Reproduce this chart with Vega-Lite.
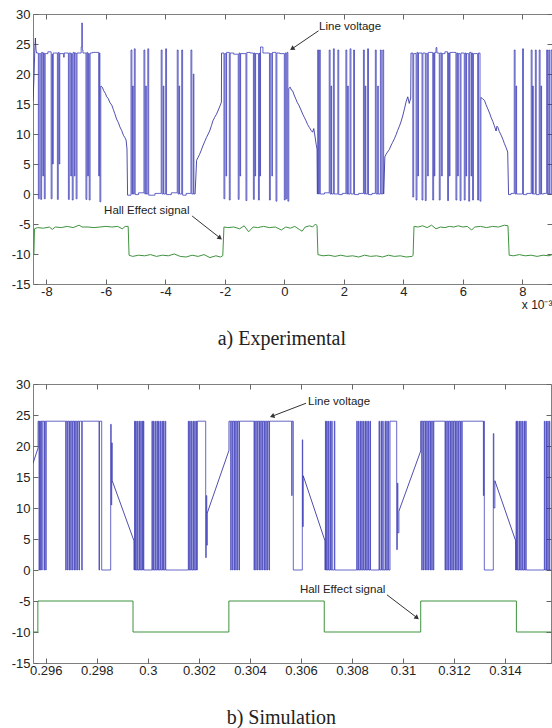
{
"$schema":"https://vega.github.io/schema/vega-lite/v6.json",
"background":"white",
"padding":{"left":10,"top":7,"right":0,"bottom":0},
"spacing":27,
"config":{
 "view":{"stroke":"#808080","strokeWidth":1},
 "axis":{"domain":false,"grid":false,"labelFont":"Liberation Sans","labelFontSize":13,"labelColor":"#222","tickColor":"#666","tickSize":-5,"titleFont":"Liberation Sans","titleFontWeight":"normal","titleFontSize":12,"titleColor":"#222"},
 "axisX":{"labelPadding":6},
 "axisY":{"labelPadding":8},
 "title":{"font":"Liberation Serif","fontSize":20,"fontWeight":"normal","color":"#222"}
},
"datasets":{
"expHall":[{"t":-8.45,"v":-10.0},{"t":-8.42,"v":-10.1},{"t":-8.40,"v":-5.8},{"t":-8.3,"v":-5.6},{"t":-8.1,"v":-5.7},{"t":-7.9,"v":-5.5},{"t":-7.8,"v":-5.9},{"t":-7.7,"v":-5.5},{"t":-7.5,"v":-5.6},{"t":-7.3,"v":-5.4},{"t":-7.1,"v":-5.6},{"t":-6.9,"v":-5.2},{"t":-6.8,"v":-5.5},{"t":-6.6,"v":-5.5},{"t":-6.4,"v":-5.6},{"t":-6.2,"v":-5.5},{"t":-6.0,"v":-5.4},{"t":-5.8,"v":-5.5},{"t":-5.6,"v":-5.4},{"t":-5.45,"v":-5.8},{"t":-5.35,"v":-5.4},{"t":-5.25,"v":-5.4},{"t":-5.22,"v":-10.2},{"t":-5.1,"v":-10.4},{"t":-4.9,"v":-10.2},{"t":-4.7,"v":-10.3},{"t":-4.5,"v":-10.1},{"t":-4.3,"v":-10.4},{"t":-4.1,"v":-10.2},{"t":-3.9,"v":-10.3},{"t":-3.7,"v":-10.0},{"t":-3.5,"v":-10.4},{"t":-3.3,"v":-10.5},{"t":-3.1,"v":-10.2},{"t":-2.9,"v":-10.4},{"t":-2.7,"v":-10.1},{"t":-2.5,"v":-10.6},{"t":-2.3,"v":-10.3},{"t":-2.15,"v":-10.5},{"t":-2.07,"v":-10.3},{"t":-2.03,"v":-5.5},{"t":-1.9,"v":-5.6},{"t":-1.7,"v":-5.5},{"t":-1.5,"v":-5.8},{"t":-1.35,"v":-5.3},{"t":-1.2,"v":-6.3},{"t":-1.05,"v":-5.5},{"t":-0.9,"v":-5.6},{"t":-0.7,"v":-5.4},{"t":-0.5,"v":-5.6},{"t":-0.3,"v":-5.5},{"t":-0.1,"v":-6.0},{"t":0.05,"v":-5.5},{"t":0.2,"v":-5.7},{"t":0.35,"v":-5.4},{"t":0.5,"v":-5.9},{"t":0.6,"v":-6.2},{"t":0.7,"v":-5.5},{"t":0.85,"v":-5.3},{"t":0.95,"v":-5.5},{"t":1.05,"v":-5.0},{"t":1.10,"v":-5.3},{"t":1.13,"v":-10.1},{"t":1.3,"v":-10.3},{"t":1.5,"v":-10.2},{"t":1.7,"v":-10.4},{"t":1.9,"v":-10.2},{"t":2.1,"v":-10.4},{"t":2.3,"v":-10.3},{"t":2.5,"v":-10.5},{"t":2.7,"v":-10.2},{"t":2.9,"v":-10.4},{"t":3.1,"v":-10.3},{"t":3.3,"v":-10.5},{"t":3.5,"v":-10.2},{"t":3.7,"v":-10.4},{"t":3.9,"v":-10.3},{"t":4.1,"v":-10.5},{"t":4.3,"v":-10.4},{"t":4.33,"v":-10.2},{"t":4.36,"v":-5.4},{"t":4.5,"v":-5.5},{"t":4.65,"v":-5.3},{"t":4.8,"v":-5.6},{"t":4.95,"v":-5.2},{"t":5.1,"v":-5.8},{"t":5.25,"v":-5.5},{"t":5.4,"v":-5.6},{"t":5.55,"v":-5.4},{"t":5.7,"v":-5.5},{"t":5.85,"v":-5.3},{"t":6.0,"v":-5.5},{"t":6.15,"v":-5.4},{"t":6.3,"v":-6.0},{"t":6.4,"v":-5.5},{"t":6.6,"v":-5.4},{"t":6.8,"v":-5.6},{"t":7.0,"v":-5.4},{"t":7.2,"v":-5.5},{"t":7.4,"v":-5.2},{"t":7.52,"v":-5.3},{"t":7.56,"v":-10.2},{"t":7.7,"v":-10.3},{"t":7.9,"v":-10.1},{"t":8.1,"v":-10.3},{"t":8.3,"v":-10.2},{"t":8.5,"v":-10.4},{"t":8.7,"v":-10.2},{"t":8.9,"v":-10.3},{"t":9.0,"v":-10.1}],
"expStep":[
{"g":1,"t":-8.33,"v":23.5},{"g":1,"t":-8.27,"v":-0.8},{"g":1,"t":-8.24,"v":23.4},{"g":1,"t":-8.19,"v":-0.9},{"g":1,"t":-8.16,"v":23.6},{"g":1,"t":-8.12,"v":3},{"g":1,"t":-8.10,"v":23.5},{"g":1,"t":-8.07,"v":-0.8},{"g":1,"t":-8.04,"v":23.4},{"g":1,"t":-7.95,"v":23.7},{"g":1,"t":-7.84,"v":-0.8},{"g":1,"t":-7.81,"v":23.3},{"g":1,"t":-7.79,"v":5},{"g":1,"t":-7.77,"v":23.5},{"g":1,"t":-7.63,"v":-0.9},{"g":1,"t":-7.60,"v":23.6},{"g":1,"t":-7.57,"v":5},{"g":1,"t":-7.55,"v":23.4},{"g":1,"t":-7.42,"v":22.8},{"g":1,"t":-7.40,"v":23.5},{"g":1,"t":-7.26,"v":-0.9},{"g":1,"t":-7.23,"v":23.5},{"g":1,"t":-7.18,"v":3},{"g":1,"t":-7.16,"v":23.4},{"g":1,"t":-7.13,"v":-1.0},{"g":1,"t":-7.10,"v":23.6},{"g":1,"t":-7.06,"v":3},{"g":1,"t":-7.04,"v":23.5},{"g":1,"t":-7.00,"v":-0.8},{"g":1,"t":-6.97,"v":23.5},{"g":1,"t":-6.83,"v":24.5},{"g":1,"t":-6.81,"v":28.5},{"g":1,"t":-6.79,"v":24},{"g":1,"t":-6.77,"v":23.5},{"g":1,"t":-6.67,"v":-0.9},{"g":1,"t":-6.64,"v":23.6},{"g":1,"t":-6.61,"v":3},{"g":1,"t":-6.59,"v":23.4},{"g":1,"t":-6.56,"v":-1.0},{"g":1,"t":-6.53,"v":23.5},{"g":1,"t":-6.45,"v":23.6},{"g":1,"t":-6.24,"v":3},{"g":1,"t":-6.22,"v":23.5},{"g":1,"t":-6.20,"v":-1.3},{"g":1,"t":-6.17,"v":18},
{"g":2,"t":-5.27,"v":-0.2},{"g":2,"t":-5.155,"v":24},{"g":2,"t":-5.125,"v":0},{"g":2,"t":-5.10,"v":18},{"g":2,"t":-5.08,"v":0},{"g":2,"t":-5.044,"v":24.2},{"g":2,"t":-5.014,"v":-0.1},{"g":2,"t":-4.9,"v":0.2},{"g":2,"t":-4.72,"v":24},{"g":2,"t":-4.69,"v":0},{"g":2,"t":-4.66,"v":18},{"g":2,"t":-4.64,"v":0},{"g":2,"t":-4.59,"v":24.2},{"g":2,"t":-4.56,"v":-0.2},{"g":2,"t":-4.35,"v":0.1},{"g":2,"t":-4.14,"v":24},{"g":2,"t":-4.11,"v":0},{"g":2,"t":-4.07,"v":18},{"g":2,"t":-4.05,"v":0},{"g":2,"t":-3.99,"v":24.2},{"g":2,"t":-3.96,"v":-0.1},{"g":2,"t":-3.8,"v":0.2},{"g":2,"t":-3.60,"v":24},{"g":2,"t":-3.57,"v":0},{"g":2,"t":-3.54,"v":18},{"g":2,"t":-3.52,"v":0},{"g":2,"t":-3.45,"v":24},{"g":2,"t":-3.42,"v":-0.2},{"g":2,"t":-3.3,"v":0.1},{"g":2,"t":-3.14,"v":24},{"g":2,"t":-3.11,"v":0},{"g":2,"t":-3.06,"v":20},{"g":2,"t":-3.04,"v":0},{"g":2,"t":-3.0,"v":0},
{"g":3,"t":-2.11,"v":23.5},{"g":3,"t":-2.03,"v":-0.8},{"g":3,"t":-2.00,"v":23.4},{"g":3,"t":-1.96,"v":3},{"g":3,"t":-1.94,"v":23.6},{"g":3,"t":-1.85,"v":-1.0},{"g":3,"t":-1.82,"v":23.5},{"g":3,"t":-1.70,"v":23.3},{"g":3,"t":-1.55,"v":-0.9},{"g":3,"t":-1.52,"v":23.5},{"g":3,"t":-1.49,"v":3},{"g":3,"t":-1.47,"v":23.4},{"g":3,"t":-1.29,"v":-1.1},{"g":3,"t":-1.26,"v":23.6},{"g":3,"t":-1.15,"v":23.5},{"g":3,"t":-1.04,"v":-0.9},{"g":3,"t":-1.01,"v":23.5},{"g":3,"t":-0.985,"v":3},{"g":3,"t":-0.965,"v":23.4},{"g":3,"t":-0.87,"v":-1.0},{"g":3,"t":-0.84,"v":23.5},{"g":3,"t":-0.82,"v":3},{"g":3,"t":-0.80,"v":24.5},{"g":3,"t":-0.72,"v":23.5},{"g":3,"t":-0.50,"v":-1.0},{"g":3,"t":-0.47,"v":23.4},{"g":3,"t":-0.42,"v":3},{"g":3,"t":-0.40,"v":23.6},{"g":3,"t":-0.28,"v":-1.2},{"g":3,"t":-0.25,"v":23.5},{"g":3,"t":-0.15,"v":23.4},{"g":3,"t":0.00,"v":-1.0},{"g":3,"t":0.03,"v":23.5},{"g":3,"t":0.06,"v":-0.8},{"g":3,"t":0.09,"v":23.6},{"g":3,"t":0.12,"v":-1.2},{"g":3,"t":0.15,"v":17.6},
{"g":4,"t":1.11,"v":0},{"g":4,"t":1.12,"v":24},{"g":4,"t":1.15,"v":0},{"g":4,"t":1.18,"v":24},{"g":4,"t":1.21,"v":0},{"g":4,"t":1.35,"v":0.2},{"g":4,"t":1.51,"v":24},{"g":4,"t":1.54,"v":0},{"g":4,"t":1.57,"v":18},{"g":4,"t":1.59,"v":0},{"g":4,"t":1.65,"v":24.2},{"g":4,"t":1.68,"v":0},{"g":4,"t":1.80,"v":24},{"g":4,"t":1.83,"v":-0.1},{"g":4,"t":1.95,"v":0.1},{"g":4,"t":2.07,"v":24},{"g":4,"t":2.10,"v":0},{"g":4,"t":2.13,"v":18},{"g":4,"t":2.15,"v":0},{"g":4,"t":2.21,"v":24.2},{"g":4,"t":2.24,"v":0},{"g":4,"t":2.33,"v":24},{"g":4,"t":2.36,"v":-0.1},{"g":4,"t":2.50,"v":0.1},{"g":4,"t":2.66,"v":24},{"g":4,"t":2.69,"v":0},{"g":4,"t":2.72,"v":18},{"g":4,"t":2.74,"v":0},{"g":4,"t":2.80,"v":24.2},{"g":4,"t":2.83,"v":-0.1},{"g":4,"t":2.95,"v":0.1},{"g":4,"t":3.06,"v":24},{"g":4,"t":3.09,"v":0},{"g":4,"t":3.14,"v":18},{"g":4,"t":3.16,"v":0},{"g":4,"t":3.23,"v":24},{"g":4,"t":3.26,"v":0},{"g":4,"t":3.31,"v":24},{"g":4,"t":3.34,"v":0},
{"g":5,"t":4.26,"v":23.5},{"g":5,"t":4.32,"v":-0.5},{"g":5,"t":4.35,"v":23.4},{"g":5,"t":4.43,"v":-1.0},{"g":5,"t":4.46,"v":23.6},{"g":5,"t":4.49,"v":3},{"g":5,"t":4.51,"v":23.5},{"g":5,"t":4.63,"v":-1.0},{"g":5,"t":4.66,"v":23.5},{"g":5,"t":4.74,"v":-1.1},{"g":5,"t":4.77,"v":23.4},{"g":5,"t":4.82,"v":3},{"g":5,"t":4.84,"v":23.6},{"g":5,"t":4.99,"v":-1.0},{"g":5,"t":5.02,"v":23.5},{"g":5,"t":5.04,"v":3},{"g":5,"t":5.06,"v":23.6},{"g":5,"t":5.10,"v":24.4},{"g":5,"t":5.13,"v":23.5},{"g":5,"t":5.21,"v":-1.0},{"g":5,"t":5.24,"v":23.5},{"g":5,"t":5.29,"v":3},{"g":5,"t":5.31,"v":23.4},{"g":5,"t":5.40,"v":23.7},{"g":5,"t":5.49,"v":-1.1},{"g":5,"t":5.52,"v":23.5},{"g":5,"t":5.55,"v":3},{"g":5,"t":5.57,"v":23.6},{"g":5,"t":5.77,"v":-1.0},{"g":5,"t":5.80,"v":23.5},{"g":5,"t":5.83,"v":3},{"g":5,"t":5.85,"v":23.4},{"g":5,"t":5.91,"v":-1.1},{"g":5,"t":5.94,"v":23.5},{"g":5,"t":6.05,"v":-1.0},{"g":5,"t":6.08,"v":23.5},{"g":5,"t":6.11,"v":3},{"g":5,"t":6.13,"v":23.4},{"g":5,"t":6.20,"v":-1.2},{"g":5,"t":6.23,"v":23.6},{"g":5,"t":6.28,"v":3},{"g":5,"t":6.30,"v":23.5},{"g":5,"t":6.33,"v":-1.0},{"g":5,"t":6.36,"v":23.4},{"g":5,"t":6.50,"v":-1.0},{"g":5,"t":6.53,"v":23.5},{"g":5,"t":6.58,"v":-1.2},{"g":5,"t":6.61,"v":16.1},
{"g":6,"t":7.54,"v":-0.1},{"g":6,"t":7.62,"v":0.1},{"g":6,"t":7.73,"v":24},{"g":6,"t":7.76,"v":0},{"g":6,"t":7.79,"v":18},{"g":6,"t":7.81,"v":0},{"g":6,"t":8.01,"v":24.2},{"g":6,"t":8.04,"v":-0.1},{"g":6,"t":8.15,"v":0.1},{"g":6,"t":8.30,"v":24},{"g":6,"t":8.33,"v":0},{"g":6,"t":8.35,"v":18},{"g":6,"t":8.37,"v":0},{"g":6,"t":8.44,"v":24},{"g":6,"t":8.47,"v":-0.1},{"g":6,"t":8.57,"v":24},{"g":6,"t":8.60,"v":0},{"g":6,"t":8.63,"v":18},{"g":6,"t":8.65,"v":0},{"g":6,"t":8.72,"v":0.1},{"g":6,"t":8.82,"v":24},{"g":6,"t":8.85,"v":0},{"g":6,"t":8.89,"v":24},{"g":6,"t":8.92,"v":0},{"g":6,"t":8.97,"v":24},{"g":6,"t":9.0,"v":0},{"g":6,"t":9.1,"v":0}],
"expLin":[
{"g":0,"t":-8.45,"v":15.5},{"g":0,"t":-8.42,"v":19},{"g":0,"t":-8.39,"v":24},{"g":0,"t":-8.37,"v":26},{"g":0,"t":-8.35,"v":24},{"g":0,"t":-8.33,"v":23.5},
{"g":1,"t":-6.16,"v":18},{"g":1,"t":-6.12,"v":17.8},{"g":1,"t":-6.07,"v":17.2},{"g":1,"t":-6.02,"v":16.8},{"g":1,"t":-5.97,"v":16.2},{"g":1,"t":-5.92,"v":15.9},{"g":1,"t":-5.86,"v":15.2},{"g":1,"t":-5.80,"v":14.8},{"g":1,"t":-5.75,"v":14.1},{"g":1,"t":-5.70,"v":13.4},{"g":1,"t":-5.64,"v":12.5},{"g":1,"t":-5.58,"v":11.9},{"g":1,"t":-5.53,"v":11.2},{"g":1,"t":-5.47,"v":10.6},{"g":1,"t":-5.41,"v":9.8},{"g":1,"t":-5.36,"v":9.4},{"g":1,"t":-5.32,"v":9.0},{"g":1,"t":-5.29,"v":7.5},{"g":1,"t":-5.27,"v":-0.2},
{"g":2,"t":-3.0,"v":0},{"g":2,"t":-2.95,"v":5.6},{"g":2,"t":-2.90,"v":6.1},{"g":2,"t":-2.85,"v":6.6},{"g":2,"t":-2.80,"v":7.2},{"g":2,"t":-2.74,"v":8.0},{"g":2,"t":-2.68,"v":8.7},{"g":2,"t":-2.62,"v":9.4},{"g":2,"t":-2.56,"v":10.0},{"g":2,"t":-2.51,"v":10.5},{"g":2,"t":-2.45,"v":11.4},{"g":2,"t":-2.40,"v":12.2},{"g":2,"t":-2.34,"v":12.8},{"g":2,"t":-2.28,"v":13.3},{"g":2,"t":-2.22,"v":14.0},{"g":2,"t":-2.16,"v":14.7},{"g":2,"t":-2.115,"v":15.3},{"g":2,"t":-2.11,"v":23.5},
{"g":3,"t":0.15,"v":17.6},{"g":3,"t":0.20,"v":17.8},{"g":3,"t":0.24,"v":17.3},{"g":3,"t":0.28,"v":17.2},{"g":3,"t":0.33,"v":16.5},{"g":3,"t":0.39,"v":15.8},{"g":3,"t":0.44,"v":15.2},{"g":3,"t":0.50,"v":14.7},{"g":3,"t":0.56,"v":14.0},{"g":3,"t":0.62,"v":13.3},{"g":3,"t":0.67,"v":12.8},{"g":3,"t":0.73,"v":12.2},{"g":3,"t":0.78,"v":11.6},{"g":3,"t":0.84,"v":11.1},{"g":3,"t":0.90,"v":10.6},{"g":3,"t":0.95,"v":10.3},{"g":3,"t":0.99,"v":10.9},{"g":3,"t":1.02,"v":10.0},{"g":3,"t":1.07,"v":8.3},{"g":3,"t":1.10,"v":7.5},{"g":3,"t":1.11,"v":0},
{"g":4,"t":3.34,"v":0},{"g":4,"t":3.38,"v":6.2},{"g":4,"t":3.42,"v":6.6},{"g":4,"t":3.47,"v":7.0},{"g":4,"t":3.53,"v":7.4},{"g":4,"t":3.58,"v":8.0},{"g":4,"t":3.64,"v":8.6},{"g":4,"t":3.70,"v":9.2},{"g":4,"t":3.76,"v":9.9},{"g":4,"t":3.81,"v":10.6},{"g":4,"t":3.87,"v":11.3},{"g":4,"t":3.92,"v":12.0},{"g":4,"t":3.98,"v":13.0},{"g":4,"t":4.04,"v":14.2},{"g":4,"t":4.09,"v":15.3},{"g":4,"t":4.15,"v":16.2},{"g":4,"t":4.20,"v":15.1},{"g":4,"t":4.25,"v":16.0},{"g":4,"t":4.26,"v":23.5},
{"g":5,"t":6.61,"v":16.1},{"g":5,"t":6.66,"v":15.9},{"g":5,"t":6.73,"v":15.6},{"g":5,"t":6.78,"v":14.9},{"g":5,"t":6.84,"v":14.2},{"g":5,"t":6.90,"v":13.5},{"g":5,"t":6.95,"v":12.8},{"g":5,"t":7.01,"v":12.1},{"g":5,"t":7.06,"v":11.4},{"g":5,"t":7.12,"v":10.5},{"g":5,"t":7.15,"v":11.3},{"g":5,"t":7.18,"v":11.1},{"g":5,"t":7.23,"v":10.4},{"g":5,"t":7.29,"v":9.8},{"g":5,"t":7.35,"v":9.1},{"g":5,"t":7.40,"v":8.4},{"g":5,"t":7.46,"v":7.7},{"g":5,"t":7.51,"v":7.0},{"g":5,"t":7.54,"v":-0.1}],
"expNotes":[{"id":1,"t":1.17,"v":27.8,"label":"Line voltage","t2":0.26,"v2":24.2,"ts":1.15,"vs":27.2},{"id":2,"t":-6.06,"v":-2.83,"label":"Hall Effect signal","t2":-2.16,"v2":-7.33,"ts":-3.10,"vs":-3.67}],
"simHall":[{"t":0.2955,"v":-10},{"t":0.29569,"v":-10},{"t":0.29569,"v":-5},{"t":0.29942,"v":-5},{"t":0.29942,"v":-10},{"t":0.303176,"v":-10},{"t":0.303176,"v":-5},{"t":0.306914,"v":-5},{"t":0.306914,"v":-10},{"t":0.310694,"v":-10},{"t":0.310694,"v":-5},{"t":0.314444,"v":-5},{"t":0.314444,"v":-10},{"t":0.3158,"v":-10}],
"simStep":[
{"g":1,"t":0.29570,"v":24},{"g":1,"t":0.295735,"v":0},{"g":1,"t":0.295755,"v":24},{"g":1,"t":0.295786,"v":0},{"g":1,"t":0.295806,"v":24},{"g":1,"t":0.295841,"v":0},{"g":1,"t":0.295861,"v":24},{"g":1,"t":0.295931,"v":0},{"g":1,"t":0.295951,"v":24},{"g":1,"t":0.295998,"v":0},{"g":1,"t":0.296018,"v":24},{"g":1,"t":0.296781,"v":0},{"g":1,"t":0.296801,"v":24},{"g":1,"t":0.296844,"v":0},{"g":1,"t":0.296864,"v":24},{"g":1,"t":0.296911,"v":0},{"g":1,"t":0.296931,"v":24},{"g":1,"t":0.296977,"v":0},{"g":1,"t":0.296997,"v":24},{"g":1,"t":0.297040,"v":0},{"g":1,"t":0.297060,"v":24},{"g":1,"t":0.297107,"v":0},{"g":1,"t":0.297127,"v":24},{"g":1,"t":0.297173,"v":0},{"g":1,"t":0.297193,"v":24},{"g":1,"t":0.297236,"v":0},{"g":1,"t":0.297256,"v":24},{"g":1,"t":0.297303,"v":0},{"g":1,"t":0.297323,"v":24},{"g":1,"t":0.297409,"v":0},{"g":1,"t":0.297429,"v":24},{"g":1,"t":0.298087,"v":0},{"g":1,"t":0.298107,"v":24},{"g":1,"t":0.298192,"v":0},{"g":1,"t":0.298545,"v":23.5},{"g":1,"t":0.298565,"v":10.5},{"g":1,"t":0.298585,"v":20.5},{"g":1,"t":0.298605,"v":14.4},
{"g":2,"t":0.29946,"v":0},{"g":2,"t":0.29948,"v":24},{"g":2,"t":0.2995,"v":0},{"g":2,"t":0.299525,"v":24},{"g":2,"t":0.299545,"v":0},{"g":2,"t":0.299587,"v":24},{"g":2,"t":0.299607,"v":0},{"g":2,"t":0.299654,"v":24},{"g":2,"t":0.299674,"v":0},{"g":2,"t":0.299721,"v":24},{"g":2,"t":0.299741,"v":0},{"g":2,"t":0.299783,"v":24},{"g":2,"t":0.299803,"v":0},{"g":2,"t":0.299823,"v":24},{"g":2,"t":0.299843,"v":0},{"g":2,"t":0.300161,"v":24},{"g":2,"t":0.300181,"v":0},{"g":2,"t":0.300224,"v":24},{"g":2,"t":0.300244,"v":0},{"g":2,"t":0.300291,"v":24},{"g":2,"t":0.300311,"v":0},{"g":2,"t":0.300357,"v":24},{"g":2,"t":0.300377,"v":0},{"g":2,"t":0.300420,"v":24},{"g":2,"t":0.300440,"v":0},{"g":2,"t":0.300487,"v":24},{"g":2,"t":0.300507,"v":0},{"g":2,"t":0.300553,"v":24},{"g":2,"t":0.300573,"v":0},{"g":2,"t":0.300616,"v":24},{"g":2,"t":0.300636,"v":0},{"g":2,"t":0.300683,"v":24},{"g":2,"t":0.300703,"v":0},{"g":2,"t":0.301586,"v":24},{"g":2,"t":0.301606,"v":0},{"g":2,"t":0.301641,"v":24},{"g":2,"t":0.301661,"v":0},{"g":2,"t":0.301704,"v":24},{"g":2,"t":0.301724,"v":0},{"g":2,"t":0.301770,"v":24},{"g":2,"t":0.301790,"v":0},{"g":2,"t":0.301837,"v":24},{"g":2,"t":0.301857,"v":0},{"g":2,"t":0.301900,"v":24},{"g":2,"t":0.301920,"v":0},{"g":2,"t":0.301939,"v":24},{"g":2,"t":0.302268,"v":2.0},{"g":2,"t":0.30229,"v":12},{"g":2,"t":0.30231,"v":4},{"g":2,"t":0.30233,"v":9.2},
{"g":3,"t":0.303182,"v":24},{"g":3,"t":0.303247,"v":0},{"g":3,"t":0.303267,"v":24},{"g":3,"t":0.303310,"v":0},{"g":3,"t":0.303330,"v":24},{"g":3,"t":0.303377,"v":0},{"g":3,"t":0.303397,"v":24},{"g":3,"t":0.303443,"v":0},{"g":3,"t":0.303463,"v":24},{"g":3,"t":0.303506,"v":0},{"g":3,"t":0.303526,"v":24},{"g":3,"t":0.303573,"v":0},{"g":3,"t":0.303593,"v":24},{"g":3,"t":0.304161,"v":0},{"g":3,"t":0.304181,"v":24},{"g":3,"t":0.304227,"v":0},{"g":3,"t":0.304247,"v":24},{"g":3,"t":0.304290,"v":0},{"g":3,"t":0.304310,"v":24},{"g":3,"t":0.304357,"v":0},{"g":3,"t":0.304377,"v":24},{"g":3,"t":0.304424,"v":0},{"g":3,"t":0.304444,"v":24},{"g":3,"t":0.304486,"v":0},{"g":3,"t":0.304506,"v":24},{"g":3,"t":0.304553,"v":0},{"g":3,"t":0.304573,"v":24},{"g":3,"t":0.304620,"v":0},{"g":3,"t":0.304640,"v":24},{"g":3,"t":0.304682,"v":0},{"g":3,"t":0.304702,"v":24},{"g":3,"t":0.304749,"v":0},{"g":3,"t":0.304769,"v":24},{"g":3,"t":0.305638,"v":12},{"g":3,"t":0.305655,"v":24},{"g":3,"t":0.305701,"v":0},{"g":3,"t":0.306054,"v":21},{"g":3,"t":0.30607,"v":7},{"g":3,"t":0.30609,"v":15.2},
{"g":4,"t":0.306945,"v":0},{"g":4,"t":0.30696,"v":24},{"g":4,"t":0.30698,"v":0},{"g":4,"t":0.307010,"v":24},{"g":4,"t":0.307030,"v":0},{"g":4,"t":0.307072,"v":24},{"g":4,"t":0.307092,"v":0},{"g":4,"t":0.307139,"v":24},{"g":4,"t":0.307159,"v":0},{"g":4,"t":0.307206,"v":24},{"g":4,"t":0.307226,"v":0},{"g":4,"t":0.307308,"v":24},{"g":4,"t":0.307328,"v":0},{"g":4,"t":0.308186,"v":24},{"g":4,"t":0.308206,"v":0},{"g":4,"t":0.308248,"v":24},{"g":4,"t":0.308268,"v":0},{"g":4,"t":0.308315,"v":24},{"g":4,"t":0.308335,"v":0},{"g":4,"t":0.308382,"v":24},{"g":4,"t":0.308402,"v":0},{"g":4,"t":0.308445,"v":24},{"g":4,"t":0.308465,"v":0},{"g":4,"t":0.308511,"v":24},{"g":4,"t":0.308531,"v":0},{"g":4,"t":0.308578,"v":24},{"g":4,"t":0.308598,"v":0},{"g":4,"t":0.308641,"v":24},{"g":4,"t":0.308661,"v":0},{"g":4,"t":0.308707,"v":24},{"g":4,"t":0.308727,"v":0},{"g":4,"t":0.309060,"v":24},{"g":4,"t":0.309080,"v":0},{"g":4,"t":0.309138,"v":24},{"g":4,"t":0.309158,"v":0},{"g":4,"t":0.309205,"v":24},{"g":4,"t":0.309225,"v":0},{"g":4,"t":0.309295,"v":24},{"g":4,"t":0.309315,"v":0},{"g":4,"t":0.309362,"v":24},{"g":4,"t":0.309382,"v":0},{"g":4,"t":0.309424,"v":24},{"g":4,"t":0.309444,"v":0},{"g":4,"t":0.309491,"v":24},{"g":4,"t":0.309753,"v":3.3},{"g":4,"t":0.30978,"v":14},{"g":4,"t":0.30980,"v":6},{"g":4,"t":0.30984,"v":9.5},
{"g":5,"t":0.310695,"v":24},{"g":5,"t":0.310733,"v":0},{"g":5,"t":0.310753,"v":24},{"g":5,"t":0.310796,"v":0},{"g":5,"t":0.310816,"v":24},{"g":5,"t":0.310862,"v":0},{"g":5,"t":0.310882,"v":24},{"g":5,"t":0.310929,"v":0},{"g":5,"t":0.310949,"v":24},{"g":5,"t":0.310992,"v":0},{"g":5,"t":0.311012,"v":24},{"g":5,"t":0.311058,"v":0},{"g":5,"t":0.311078,"v":24},{"g":5,"t":0.311125,"v":0},{"g":5,"t":0.311145,"v":24},{"g":5,"t":0.311188,"v":0},{"g":5,"t":0.311208,"v":24},{"g":5,"t":0.311646,"v":0},{"g":5,"t":0.311666,"v":24},{"g":5,"t":0.311713,"v":0},{"g":5,"t":0.311733,"v":24},{"g":5,"t":0.311775,"v":0},{"g":5,"t":0.311795,"v":24},{"g":5,"t":0.311842,"v":0},{"g":5,"t":0.311862,"v":24},{"g":5,"t":0.311909,"v":0},{"g":5,"t":0.311929,"v":24},{"g":5,"t":0.311971,"v":0},{"g":5,"t":0.311991,"v":24},{"g":5,"t":0.312038,"v":0},{"g":5,"t":0.312058,"v":24},{"g":5,"t":0.312104,"v":0},{"g":5,"t":0.312124,"v":24},{"g":5,"t":0.312167,"v":0},{"g":5,"t":0.312187,"v":24},{"g":5,"t":0.312234,"v":0},{"g":5,"t":0.312254,"v":24},{"g":5,"t":0.312300,"v":0},{"g":5,"t":0.312320,"v":24},{"g":5,"t":0.31315,"v":12},{"g":5,"t":0.31317,"v":24},{"g":5,"t":0.313187,"v":0},{"g":5,"t":0.313539,"v":22},{"g":5,"t":0.31356,"v":10},{"g":5,"t":0.31360,"v":14.4},
{"g":6,"t":0.314418,"v":0},{"g":6,"t":0.31443,"v":24},{"g":6,"t":0.31445,"v":0},{"g":6,"t":0.314479,"v":24},{"g":6,"t":0.314499,"v":0},{"g":6,"t":0.314546,"v":24},{"g":6,"t":0.314566,"v":0},{"g":6,"t":0.314612,"v":24},{"g":6,"t":0.314632,"v":0},{"g":6,"t":0.314675,"v":24},{"g":6,"t":0.314695,"v":0},{"g":6,"t":0.314742,"v":24},{"g":6,"t":0.314762,"v":0},{"g":6,"t":0.314808,"v":24},{"g":6,"t":0.314828,"v":0},{"g":6,"t":0.315538,"v":24},{"g":6,"t":0.315558,"v":0},{"g":6,"t":0.315604,"v":24},{"g":6,"t":0.315624,"v":0},{"g":6,"t":0.315671,"v":24},{"g":6,"t":0.315691,"v":0},{"g":6,"t":0.315734,"v":24},{"g":6,"t":0.315754,"v":0},{"g":6,"t":0.3159,"v":0}],
"simLin":[
{"g":0,"t":0.2955,"v":17.2},{"g":0,"t":0.29570,"v":19.7},{"g":0,"t":0.295701,"v":24},
{"g":1,"t":0.298605,"v":14.4},{"g":1,"t":0.299458,"v":4.7},{"g":1,"t":0.29946,"v":0},
{"g":2,"t":0.30233,"v":9.2},{"g":2,"t":0.303181,"v":19.3},{"g":2,"t":0.303182,"v":24},
{"g":3,"t":0.30609,"v":15.2},{"g":3,"t":0.306943,"v":4.7},{"g":3,"t":0.306945,"v":0},
{"g":4,"t":0.30984,"v":9.5},{"g":4,"t":0.310694,"v":19.2},{"g":4,"t":0.310695,"v":24},
{"g":5,"t":0.31360,"v":14.4},{"g":5,"t":0.314416,"v":4.7},{"g":5,"t":0.314418,"v":0}],
"simNotes":[{"id":1,"t":0.30628,"v":27.1,"label":"Line voltage","t2":0.30487,"v2":24.8,"ts":0.30620,"vs":26.9},{"id":2,"t":0.30596,"v":-3.2,"label":"Hall Effect signal","t2":0.31055,"v2":-7.7,"ts":0.30937,"vs":-4.0}]
},
"vconcat":[
{
 "width":519,"height":270,
 "title":{"text":"a) Experimental","orient":"bottom","anchor":"middle","frame":"bounds","offset":19},
 "resolve":{"axis":{"x":"independent","y":"independent"}},
 "layer":[
  {"data":{"name":"expHall"},"mark":{"type":"line","color":"#3f923f","strokeWidth":1,"clip":true},
   "encoding":{
    "x":{"field":"t","type":"quantitative","scale":{"domain":[-8.45,9.0],"nice":false,"zero":false},"axis":{"orient":"bottom","values":[-8,-6,-4,-2,0,2,4,6,8],"labelExpr":"'' + datum.value","title":"x 10⁻³","titleAnchor":"end","titleAlign":"right","titleX":519,"titlePadding":1}},
    "y":{"field":"v","type":"quantitative","scale":{"domain":[-15,30],"nice":false,"zero":false},"axis":{"orient":"left","values":[-15,-10,-5,0,5,10,15,20,25,30],"labelExpr":"'' + datum.value","title":null}}}},
  {"data":{"name":"expStep"},"mark":{"type":"line","interpolate":"step-after","color":"#3535b5","strokeWidth":1,"opacity":0.75,"clip":true},
   "encoding":{
    "x":{"field":"t","type":"quantitative","axis":{"orient":"top","values":[-8,-6,-4,-2,0,2,4,6,8],"labels":false,"title":null}},
    "y":{"field":"v","type":"quantitative","axis":{"orient":"right","values":[-15,-10,-5,0,5,10,15,20,25,30],"labels":false,"title":null}},
    "detail":{"field":"g"}}},
  {"data":{"name":"expLin"},"mark":{"type":"line","color":"#3030a0","strokeWidth":1,"opacity":0.85,"clip":true},
   "encoding":{"x":{"field":"t","type":"quantitative","axis":null},"y":{"field":"v","type":"quantitative","axis":null},"detail":{"field":"g"}}},
  {"data":{"name":"expNotes"},"mark":{"type":"text","align":"left","baseline":"middle","font":"Liberation Sans","fontSize":11.5,"color":"#222"},
   "encoding":{"x":{"field":"t","type":"quantitative","axis":null},"y":{"field":"v","type":"quantitative","axis":null},"text":{"field":"label"}}},
  {"data":{"name":"expNotes"},"mark":{"type":"rule","color":"#333","strokeWidth":1},
   "encoding":{"x":{"field":"ts","type":"quantitative","axis":null},"y":{"field":"vs","type":"quantitative","axis":null},"x2":{"field":"t2"},"y2":{"field":"v2"}}},
  {"data":{"name":"expNotes"},"transform":[{"filter":"datum.id == 1"}],"mark":{"type":"point","shape":"triangle-up","filled":true,"color":"#333","size":28,"angle":236,"opacity":1},
   "encoding":{"x":{"field":"t2","type":"quantitative","axis":null},"y":{"field":"v2","type":"quantitative","axis":null}}},
  {"data":{"name":"expNotes"},"transform":[{"filter":"datum.id == 2"}],"mark":{"type":"point","shape":"triangle-up","filled":true,"color":"#333","size":28,"angle":128,"opacity":1},
   "encoding":{"x":{"field":"t2","type":"quantitative","axis":null},"y":{"field":"v2","type":"quantitative","axis":null}}}
 ]
},
{
 "width":518,"height":279,
 "title":{"text":"b) Simulation","orient":"bottom","anchor":"middle","frame":"bounds","offset":31},
 "resolve":{"axis":{"x":"independent","y":"independent"}},
 "layer":[
  {"data":{"name":"simHall"},"mark":{"type":"line","color":"#3f923f","strokeWidth":1,"clip":true},
   "encoding":{
    "x":{"field":"t","type":"quantitative","scale":{"domain":[0.2955,0.3158],"nice":false,"zero":false},"axis":{"orient":"bottom","values":[0.296,0.298,0.3,0.302,0.304,0.306,0.308,0.31,0.312,0.314],"labelExpr":"'' + datum.value","title":null}},
    "y":{"field":"v","type":"quantitative","scale":{"domain":[-15,30],"nice":false,"zero":false},"axis":{"orient":"left","values":[-15,-10,-5,0,5,10,15,20,25,30],"labelExpr":"'' + datum.value","title":null}}}},
  {"data":{"name":"simStep"},"mark":{"type":"line","interpolate":"step-after","color":"#3535b5","strokeWidth":1,"opacity":0.75,"clip":true},
   "encoding":{
    "x":{"field":"t","type":"quantitative","axis":{"orient":"top","values":[0.296,0.298,0.3,0.302,0.304,0.306,0.308,0.31,0.312,0.314],"labels":false,"title":null}},
    "y":{"field":"v","type":"quantitative","axis":{"orient":"right","values":[-15,-10,-5,0,5,10,15,20,25,30],"labels":false,"title":null}},
    "detail":{"field":"g"}}},
  {"data":{"name":"simLin"},"mark":{"type":"line","color":"#3030a0","strokeWidth":1,"opacity":0.85,"clip":true},
   "encoding":{"x":{"field":"t","type":"quantitative","axis":null},"y":{"field":"v","type":"quantitative","axis":null},"detail":{"field":"g"}}},
  {"data":{"name":"simNotes"},"mark":{"type":"text","align":"left","baseline":"middle","font":"Liberation Sans","fontSize":11.5,"color":"#222"},
   "encoding":{"x":{"field":"t","type":"quantitative","axis":null},"y":{"field":"v","type":"quantitative","axis":null},"text":{"field":"label"}}},
  {"data":{"name":"simNotes"},"mark":{"type":"rule","color":"#333","strokeWidth":1},
   "encoding":{"x":{"field":"ts","type":"quantitative","axis":null},"y":{"field":"vs","type":"quantitative","axis":null},"x2":{"field":"t2"},"y2":{"field":"v2"}}},
  {"data":{"name":"simNotes"},"transform":[{"filter":"datum.id == 1"}],"mark":{"type":"point","shape":"triangle-up","filled":true,"color":"#333","size":28,"angle":249,"opacity":1},
   "encoding":{"x":{"field":"t2","type":"quantitative","axis":null},"y":{"field":"v2","type":"quantitative","axis":null}}},
  {"data":{"name":"simNotes"},"transform":[{"filter":"datum.id == 2"}],"mark":{"type":"point","shape":"triangle-up","filled":true,"color":"#333","size":28,"angle":128,"opacity":1},
   "encoding":{"x":{"field":"t2","type":"quantitative","axis":null},"y":{"field":"v2","type":"quantitative","axis":null}}}
 ]
}
]
}
